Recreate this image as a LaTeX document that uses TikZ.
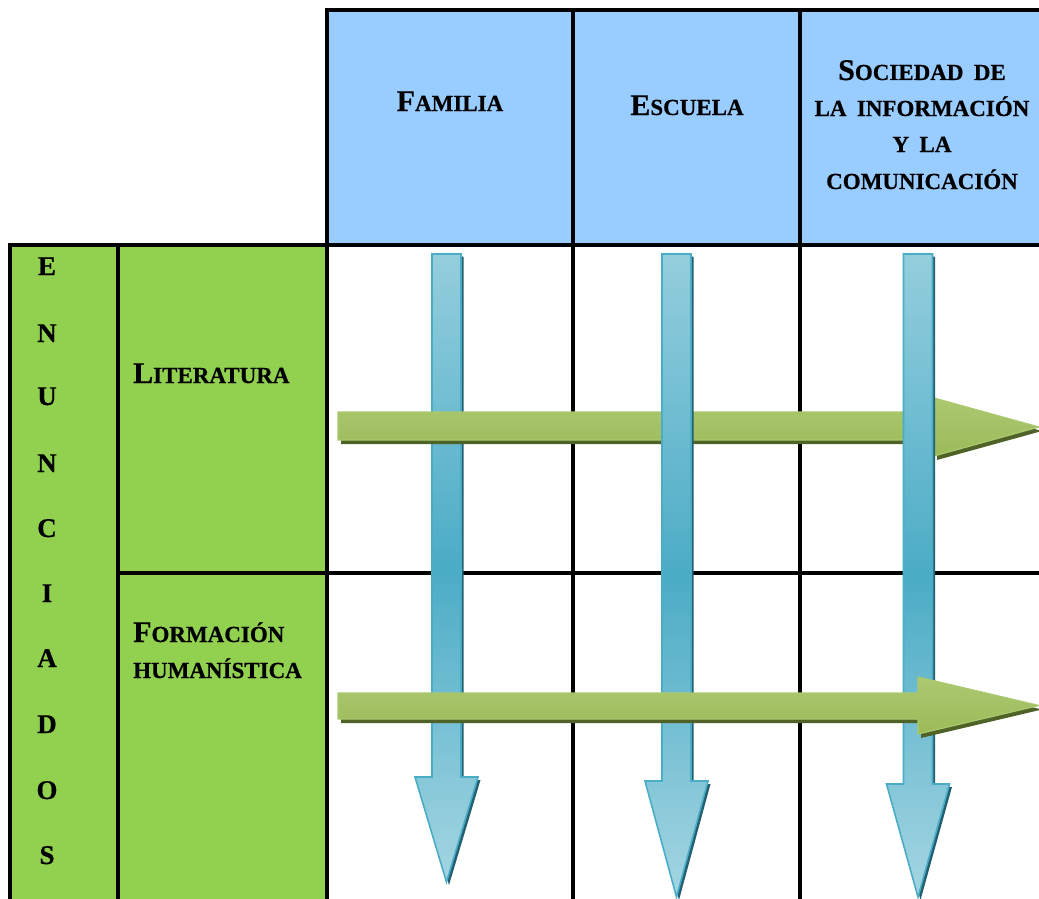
\documentclass[tikz,border=0pt]{standalone}
\usepackage{fontspec}
\setmainfont{Liberation Serif}[BoldFeatures={FakeBold=0.6}]
\definecolor{hdrblue}{RGB}{153,204,255}
\definecolor{cellgreen}{RGB}{146,208,80}
\definecolor{blight}{RGB}{148,206,221}
\definecolor{bmid}{RGB}{75,172,198}
\definecolor{bborder}{RGB}{75,172,198}
\definecolor{bshadow}{RGB}{35,95,112}
\definecolor{glight}{RGB}{172,200,112}
\definecolor{gmid}{RGB}{155,187,89}
\definecolor{gborder}{RGB}{170,200,110}
\definecolor{gshadow}{RGB}{79,98,40}
\newcommand\bigCapLetter[1]{{\fontsize{30}{30}\selectfont #1}}
\newcommand\blueArrow[4]{% center x, head top y, tip y, name
  \fill[bshadow] ({#1-14.5+2.5},256.5) -- ({#1+14.5+2.5},256.5) -- ({#1+14.5+2.5},{#2+3}) -- ({#1+31.5+2.5},{#2+3}) -- ({#1+2.5},{#3+3}) -- ({#1-31.5+2.5},{#2+3}) -- ({#1-14.5+2.5},{#2+3}) -- cycle;
  \shadedraw[top color=blight, bottom color=blight!85!white, middle color=bmid, draw=bborder, line width=1.6pt, line join=miter] ({#1-14.5},254) -- ({#1+14.5},254) -- ({#1+14.5},#2) -- ({#1+31.5},#2) -- (#1,#3) -- ({#1-31.5},#2) -- ({#1-14.5},#2) -- cycle;
  \coordinate (#4) at (#1,#3);
}
\newcommand\greenArrow[6]{% start x, shaft top, shaft bottom, head x, head top, head bottom
  \fill[gshadow] ({#1+3},{#2+4}) -- ({#4+3},{#2+4}) -- ({#4+3},{#5+4}) -- (1042,{(#5+#6)/2+4}) -- ({#4+3},{#6+4}) -- ({#4+3},{#3+4}) -- ({#1+3},{#3+4}) -- cycle;
  \shadedraw[top color=glight, bottom color=gmid, draw=gborder, line width=1.2pt, line join=miter] (#1,#2) -- (#4,#2) -- (#4,#5) -- (1039,{(#5+#6)/2}) -- (#4,#6) -- (#4,#3) -- (#1,#3) -- cycle;
}
\begin{document}
\begin{tikzpicture}[x=1pt,y=-1pt,
  gridline/.style={line width=3.5pt, black},
  lbl/.style={font=\fontsize{23}{23}\selectfont\bfseries, inner sep=0pt, anchor=base},
  lblw/.style={lbl, anchor=base west},
  letter/.style={font=\fontsize{27}{27}\selectfont\bfseries, inner sep=0pt, anchor=base}]
\useasboundingbox (0,0) rectangle (1039,899);
% fills
\fill[hdrblue] (327,10) rectangle (1039,245);
\fill[cellgreen] (10,245) rectangle (327,899);
% grid
\draw[gridline] (325.25,10) -- (1039,10);
\draw[gridline] (10,245) -- (1039,245);
\draw[gridline] (118,573) -- (1039,573);
\draw[gridline] (327,10) -- (327,899);
\draw[gridline] (573,10) -- (573,899);
\draw[gridline] (800,10) -- (800,899);
\draw[gridline] (10,243.25) -- (10,899);
\draw[gridline] (118,245) -- (118,899);
% header texts
\node[lbl] (fam) at (450,111) {\bigCapLetter{F}AMILIA};
\node[lbl] (esc) at (687,115) {\bigCapLetter{E}SCUELA};
\node[lbl] (soc1) at (922,80) {\bigCapLetter{S}OCIEDAD\hspace{0.45em}DE};
\node[lbl] (soc2) at (922,116) {LA\hspace{0.45em}INFORMACIÓN};
\node[lbl] (soc3) at (922,152) {Y\hspace{0.45em}LA};
\node[lbl] (soc4) at (922,189) {COMUNICACIÓN};
% row labels
\node[lblw] (lit) at (133,383) {\bigCapLetter{L}ITERATURA};
\node[lblw] (form1) at (133,642) {\bigCapLetter{F}ORMACIÓN};
\node[lblw] (form2) at (133,678) {HUMANÍSTICA};
% vertical word
\foreach \ch/\yy [count=\i] in {E/275,N/342,U/405,N/472,C/537,I/602,A/667,D/733,O/799,S/864}
  \node[letter] (enu\i) at (47,\yy) {\ch};
% arrows
\blueArrow{446.5}{777}{882}{tipA}
\greenArrow{338}{412}{440}{934}{398}{456}
\blueArrow{676.5}{781}{897}{tipB}
\blueArrow{918}{784}{897}{tipC}
\greenArrow{338}{693}{719}{918}{677}{734}
\end{tikzpicture}
\end{document}
